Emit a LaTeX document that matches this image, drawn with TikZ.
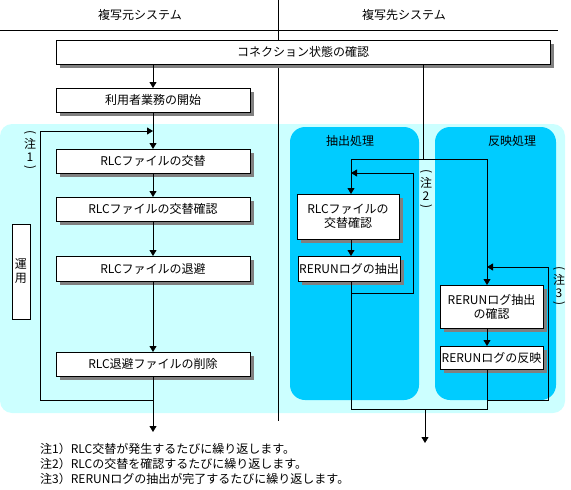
\documentclass[tikz,border=0pt]{standalone}
\usepackage{fontspec}
\usepackage{graphicx}
\setmainfont{Noto Sans CJK JP}
\usetikzlibrary{arrows.meta,shadows,calc}
\definecolor{lightc}{HTML}{CCFFFF}
\definecolor{darkc}{HTML}{00CCFF}
\newcommand{\myvparTop}{\rotatebox[origin=c]{-90}{(}}
\newcommand{\myvparBot}{\rotatebox[origin=c]{-90}{)}}
\begin{document}
\begin{tikzpicture}[x=1pt,y=-1pt,
  font=\fontsize{12}{14}\selectfont,
  box/.style={draw=black, fill=white, line width=0.8pt, inner sep=0pt, outer sep=0pt,
    anchor=north west, align=center,
    drop shadow={shadow xshift=4pt, shadow yshift=-4pt, fill=black!50, opacity=1}},
  plainbox/.style={draw=black, fill=white, line width=0.8pt, inner sep=0pt, outer sep=0pt,
    anchor=north west, align=center},
  arr/.style={-{Triangle[length=6pt,width=7pt]}},
  ln/.style={line width=0.8pt},
  vnote/.style={align=center, inner sep=0pt, font=\fontsize{12}{9}\selectfont},
  title/.style={inner sep=0pt},
]
\useasboundingbox (0,0) rectangle (571,490);

% backgrounds
\fill[lightc, rounded corners=12pt] (0,124) rectangle (565,413);
\fill[darkc, rounded corners=15pt] (290,127) rectangle (419,400);
\fill[darkc, rounded corners=15pt] (435,127) rectangle (556,400);

% header
\node[title] (hsrc) at (140,15) {複写元システム};
\node[title] (hdst) at (404,15) {複写先システム};
\coordinate (hl1) at (0,30);
\coordinate (hl2) at (558,30);
\draw[ln] (hl1) -- (hl2);
\coordinate (dv1) at (278,0);
\coordinate (dv2) at (278,421);
\draw[ln] (dv1) -- (dv2);

% titles of regions
\node[title] (tex) at (350,141) {抽出処理};
\node[title] (tre) at (512,141) {反映処理};

% boxes
\node[box, minimum width=494pt, minimum height=24pt] (conn) at (56,40) {コネクション状態の確認};
\node[box, minimum width=194pt, minimum height=24pt] (user) at (56,88) {利用者業務の開始};
\node[box, minimum width=194pt, minimum height=24pt] (rlc1) at (56,149) {RLCファイルの交替};
\node[box, minimum width=194pt, minimum height=24pt] (rlc2) at (56,197) {RLCファイルの交替確認};
\node[box, minimum width=194pt, minimum height=25pt] (rlc3) at (56,256) {RLCファイルの退避};
\node[box, minimum width=194pt, minimum height=24pt] (rlc4) at (56,352) {RLC退避ファイルの削除};

\node[box, minimum width=102pt, minimum height=45pt] (rx1) at (297,194) {RLCファイルの\\交替確認};
\node[box, minimum width=102pt, minimum height=25pt] (rx2) at (298,256) {RERUNログの抽出};
\node[box, minimum width=103pt, minimum height=43pt] (ry1) at (440,285) {RERUNログ抽出\\の確認};
\node[box, minimum width=103pt, minimum height=23pt] (ry2) at (440,346) {RERUNログの反映};

\node[plainbox, minimum width=18pt, minimum height=95pt, font=\fontsize{12}{14}\selectfont] (unyo) at (12,224) {運\\用};

% vertical notes
\node[vnote] (n1) at (30,151) {\myvparTop\\[1pt]注\\[2pt]1\\[1pt]\myvparBot};
\node[vnote] (n2) at (426,190) {\myvparTop\\[1pt]注\\[2pt]2\\[1pt]\myvparBot};
\node[vnote] (n3) at (559,287) {\myvparTop\\[1pt]注\\[2pt]3\\[1pt]\myvparBot};

% left flow
\draw[ln,arr] (user.north |- conn.south) -- (user.north);
\draw[ln,arr] (user.south) -- (rlc1.north);
\draw[ln,arr] (rlc1.south) -- (rlc2.north);
\draw[ln,arr] (rlc2.south) -- (rlc3.north);
\draw[ln,arr] (rlc3.south) -- (rlc4.north);
\coordinate (L1) at (40,131);
\coordinate (L2) at (40,400);
\coordinate (endL) at (153,432);
\draw[ln,arr] (L1) -- (L1 -| rlc1.north);
\draw[ln] (rlc4.south) -- (rlc4.south |- L2) -- (L2) -- (L1);
\draw[ln,arr] (rlc4.south |- L2) -- (endL);

% right flow
\coordinate (jA) at (351,159);
\coordinate (jM) at (423,159);
\coordinate (jB) at (487,159);
\draw[ln] (conn.south -| jM) -- (jM);
\draw[ln] (jA) -- (jB);
\draw[ln,arr] (jA) -- (jA |- rx1.north);
\draw[ln,arr] (jB) -- (jB |- ry1.north);
\draw[ln,arr] (rx1.south -| jA) -- (rx2.north -| jA);
\draw[ln,arr] (ry1.south -| jB) -- (ry2.north -| jB);

% extraction loop
\coordinate (xa) at (351,293);
\coordinate (xb) at (413,293);
\coordinate (xc) at (413,173);
\coordinate (xd) at (351,173);
\draw[ln] (xa) -- (xb) -- (xc);
\draw[ln,arr] (xc) -- (xd);

% reflection loop
\coordinate (ya) at (487,400);
\coordinate (yb) at (548,400);
\coordinate (yc) at (548,267);
\coordinate (yd) at (487,267);
\draw[ln] (ya) -- (yb) -- (yc);
\draw[ln,arr] (yc) -- (yd);

% merge
\coordinate (mA) at (351,409);
\coordinate (mB) at (487,409);
\coordinate (mM) at (425,409);
\coordinate (endR) at (425,443);
\draw[ln] (rx2.south -| jA) -- (mA) -- (mB) -- (ry2.south -| jB);
\draw[ln,arr] (mM) -- (endR);

% notes
\node[anchor=west, inner sep=0pt] (note1) at (40,449) {注1）RLC交替が発生するたびに繰り返します。};
\node[anchor=west, inner sep=0pt] (note2) at (40,464) {注2）RLCの交替を確認するたびに繰り返します。};
\node[anchor=west, inner sep=0pt] (note3) at (40,479) {注3）RERUNログの抽出が完了するたびに繰り返します。};
\end{tikzpicture}
\end{document}
